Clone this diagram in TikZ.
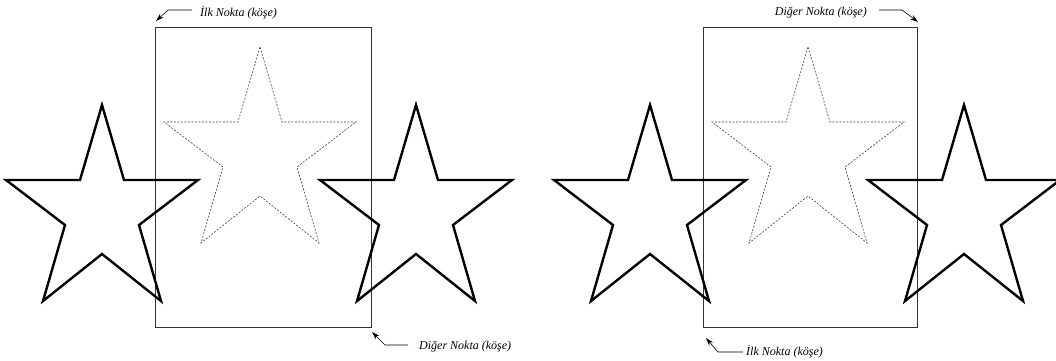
\documentclass[tikz,border=0pt]{standalone}
\usepackage{fontspec}
\setmainfont{Liberation Serif}
\usetikzlibrary{arrows.meta}
\tikzset{
  starshape/.pic={\draw[pic actions] (0,0) -- (22,75) -- (96,75) -- (37,120) -- (59,196) -- (0,149) -- (-59,196) -- (-37,120) -- (-96,75) -- (-22,75) -- cycle;},
  solidstar/.style={line width=2.4pt, line join=miter, black},
  ghoststar/.style={line width=0.6pt, dash pattern=on 2pt off 1.5pt, black!75},
  frame/.style={draw=black!80, line width=0.8pt},
  lbl/.style={font=\fontsize{12}{14}\selectfont\itshape, inner sep=0pt, anchor=west},
  pointer/.style={line width=0.6pt, -{Stealth[length=8pt,width=5pt]}}
}
\begin{document}
\begin{tikzpicture}[x=1pt,y=-1pt]
\useasboundingbox (0,0) rectangle (1056,360);
% left group
\node[frame, minimum width=216pt, minimum height=300pt, inner sep=0pt, anchor=north west] (r1) at (155,27) {};
\pic[ghoststar] at (260,47) {starshape};
\pic[solidstar] at (102,105) {starshape};
\pic[solidstar] at (416,105) {starshape};
\node[lbl] (l1) at (200,13) {İlk Nokta (köşe)};
\coordinate (l1a) at (192,10);
\coordinate (l1b) at (168,10);
\coordinate (l1t) at (156,21);
\draw[pointer] (l1a) -- (l1b) -- (l1t);
\node[lbl] (l2) at (419,347) {Diğer Nokta (köşe)};
\coordinate (l2a) at (408,345);
\coordinate (l2b) at (385,345);
\coordinate (l2t) at (372,332);
\draw[pointer] (l2a) -- (l2b) -- (l2t);
% right group
\node[frame, minimum width=214pt, minimum height=300pt, inner sep=0pt, anchor=north west] (r2) at (703,27) {};
\pic[ghoststar] at (808,47) {starshape};
\pic[solidstar] at (650,105) {starshape};
\pic[solidstar] at (964,105) {starshape};
\node[lbl, anchor=east] (l3) at (867,13) {Diğer Nokta (köşe)};
\coordinate (l3a) at (879,10);
\coordinate (l3b) at (902,10);
\coordinate (l3t) at (918,22);
\draw[pointer] (l3a) -- (l3b) -- (l3t);
\node[lbl] (l4) at (746,352) {İlk Nokta (köşe)};
\coordinate (l4a) at (743,352);
\coordinate (l4b) at (718,352);
\coordinate (l4t) at (706,338);
\draw[pointer] (l4a) -- (l4b) -- (l4t);
\end{tikzpicture}
\end{document}
